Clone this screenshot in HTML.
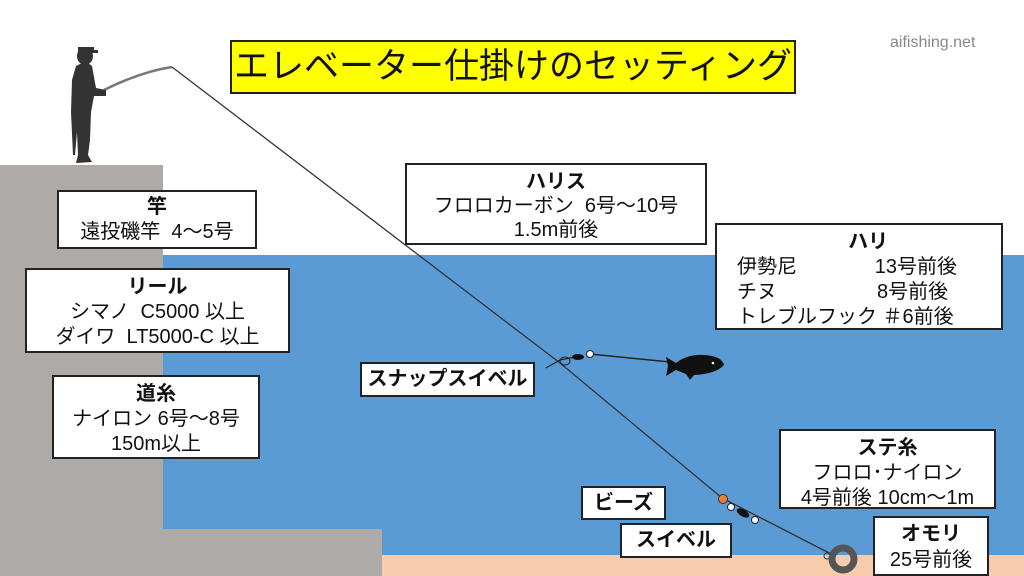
<!DOCTYPE html>
<html><head><meta charset="utf-8"><style>
body{margin:0;width:1024px;height:576px;position:relative;overflow:hidden;background:#fff;font-family:"Liberation Sans","Noto Sans CJK JP",sans-serif;color:#111}
.r{position:absolute}
.b{position:absolute;background:#fff;border:2px solid #222;box-sizing:border-box;font-size:20px;line-height:23px;text-align:center;white-space:pre}
.b b{font-weight:bold}
</style></head><body>
<div class="r" style="left:163px;top:255px;width:861px;height:300px;background:#5b9bd5"></div>
<div class="r" style="left:382px;top:555px;width:642px;height:21px;background:#f8cbad"></div>
<div class="r" style="left:0;top:165px;width:163px;height:411px;background:#aeaaa8"></div>
<div class="r" style="left:0;top:529px;width:382px;height:47px;background:#aeaaa8"></div>
<svg class="r" style="left:0;top:0" width="1024" height="576">
<path d="M104,90 Q140,72 172,67" stroke="#777" stroke-width="2.5" fill="none"/>
<polyline points="172,67 560,363 722,498 835,556" stroke="#333" stroke-width="1.3" fill="none"/>
<line x1="590" y1="354" x2="670" y2="362" stroke="#222" stroke-width="1.5"/>
<g fill="#333">
<ellipse cx="85" cy="56" rx="8" ry="9"/><rect x="78" y="47" width="16" height="5"/><rect x="92" y="50" width="6" height="3"/>
<path d="M76,66 Q86,60 92,66 L96,88 L106,90 L106,96 L94,96 L91,112 L90,140 L88,155 L92,162 L76,163 L78,155 L77,132 L75,155 L73,155 L71,112 L72,80 Z"/>
</g>
<path d="M546,368 L560,360 L575,357" stroke="#222" stroke-width="1.2" fill="none"/>
<ellipse cx="565" cy="361" rx="5" ry="4" fill="none" stroke="#222"/>
<ellipse cx="578" cy="357" rx="6" ry="3" fill="#111"/>
<circle cx="590" cy="354" r="3.5" fill="#fff" stroke="#222"/>
<path d="M666,357 L676,363 Q690,352 712,356 Q722,358 724,365 Q716,374 694,375 L690,380 L686,374 L676,370 L666,376 L668,366 Z" fill="#111"/>
<circle cx="713" cy="363" r="1.3" fill="#fff"/>
<circle cx="723" cy="499" r="4.5" fill="#ed7d31" stroke="#333"/>
<circle cx="731" cy="507" r="3.5" fill="#fff" stroke="#222"/>
<ellipse cx="743" cy="513" rx="7" ry="3.5" fill="#111" transform="rotate(30 743 513)"/>
<circle cx="755" cy="520" r="3.5" fill="#fff" stroke="#222"/>
<circle cx="827" cy="556" r="3" fill="none" stroke="#333"/>
<circle cx="843" cy="559" r="11" fill="none" stroke="#555" stroke-width="7"/>
</svg>
<div class="r" style="left:890px;top:34px;font-size:16px;color:#888">aifishing.net</div>
<div class="b" style="left:230px;top:40px;width:566px;height:54px;background:#ff0;font-size:35px;line-height:50px">エレベーター仕掛けのセッティング</div>
<div class="b" style="left:57px;top:190px;width:200px;height:59px;padding-top:3px;line-height:25px"><b>竿</b>
遠投磯竿  4～5号</div>
<div class="b" style="left:25px;top:268px;width:265px;height:85px;padding-top:5px;line-height:25px"><b>リール</b>
シマノ  C5000 以上
ダイワ  LT5000-C 以上</div>
<div class="b" style="left:52px;top:375px;width:208px;height:84px;padding-top:5px;line-height:25px"><b>道糸</b>
ナイロン 6号～8号
150m以上</div>
<div class="b" style="left:405px;top:163px;width:302px;height:82px;padding-top:5px;line-height:24px"><b>ハリス</b>
フロロカーボン  6号～10号
1.5m前後</div>
<div class="b" style="left:715px;top:223px;width:288px;height:107px;padding-top:5px;line-height:25px;text-align:left;padding-left:20px"><b>                    ハリ</b>
伊勢尼              13号前後
チヌ                  8号前後
トレブルフック ＃6前後</div>
<div class="b" style="left:360px;top:362px;width:175px;height:35px;line-height:31px"><b>スナップスイベル</b></div>
<div class="b" style="left:779px;top:429px;width:217px;height:80px;padding-top:5px;line-height:25px"><b>ステ糸</b>
フロロ･ナイロン
4号前後 10cm～1m</div>
<div class="b" style="left:581px;top:486px;width:85px;height:34px;line-height:30px"><b>ビーズ</b></div>
<div class="b" style="left:620px;top:523px;width:112px;height:35px;line-height:31px"><b>スイベル</b></div>
<div class="b" style="left:873px;top:516px;width:116px;height:60px;padding-top:3px;line-height:26px"><b>オモリ</b>
25号前後</div>
</body></html>
